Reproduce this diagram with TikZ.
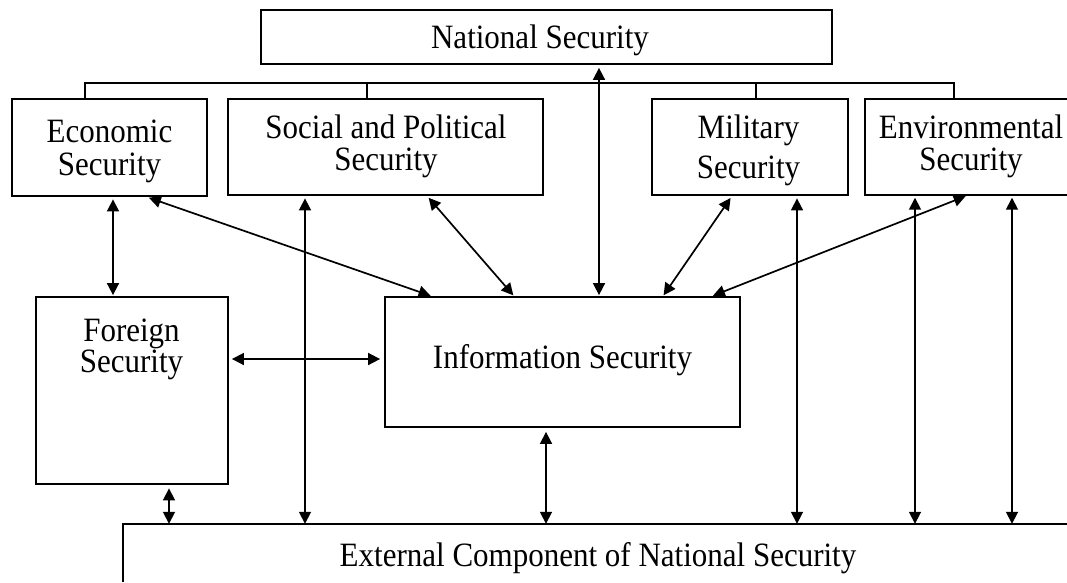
\documentclass[tikz,border=0pt]{standalone}
\usepackage{fontspec}
\setmainfont{Liberation Serif}
\usepackage{graphicx}
\usetikzlibrary{arrows.meta}
\newcommand{\stretchy}[1]{\scalebox{1}[1.1]{#1}}
\newcommand{\twoline}[3]{\scalebox{1}[1.1]{\vbox{\baselineskip=#1\relax\lineskiplimit=-100pt\relax\halign{\hfil##\hfil\cr #2\cr #3\cr}}}}
\begin{document}
\begin{tikzpicture}[x=1pt,y=-1pt,
  box/.style={draw, line width=1.8pt, inner sep=0pt, rectangle},
  openbox/.style={inner sep=0pt, rectangle},
  edge/.style={line width=1.8pt},
  txt/.style={inner sep=0pt, anchor=base, font=\fontsize{31}{26}\selectfont},
  arr/.style={line width=1.7pt, {Triangle[length=12pt,width=12pt]}-{Triangle[length=12pt,width=12pt]}},
  brk/.style={line width=1.1pt}]
\fill[white] (0,0) rectangle (1067,582);
\useasboundingbox (0,0) rectangle (1067,582);

% boxes
\node[box, minimum width=571pt, minimum height=54pt] (nat) at (546.5,37) {};
\node[box, minimum width=195pt, minimum height=97pt] (eco) at (109.5,147.5) {};
\node[box, minimum width=315pt, minimum height=96pt] (soc) at (385.5,147) {};
\node[box, minimum width=196pt, minimum height=96pt] (mil) at (750,147) {};
\node[openbox, minimum width=202pt, minimum height=96pt] (env) at (966,147) {};
\draw[edge] (env.north east) -- (env.north west) -- (env.south west) -- (env.south east);
\node[box, minimum width=192pt, minimum height=187pt] (for) at (132,390.5) {};
\node[box, minimum width=355pt, minimum height=130pt] (inf) at (562.5,362) {};
\node[openbox, minimum width=944pt, minimum height=58pt] (ext) at (595,553) {};
\draw[edge] (ext.south west) -- (ext.north west) -- (ext.north east);

% texts
\node[txt] (tnat) at (540,48) {\stretchy{National Security}};
\node[txt] (teco) at (109.5,175) {\twoline{30pt}{Economic}{Security}};
\node[txt] (tsoc) at (386,170) {\twoline{29pt}{Social and Political}{Security}};
\node[txt] (tmil) at (748.5,178) {\twoline{36pt}{Military}{Security}};
\node[txt] (tenv) at (971,170) {\twoline{29pt}{Environmental}{Security}};
\node[txt] (tfor) at (131.5,372) {\twoline{28pt}{Foreign}{Security}};
\node[txt] (tinf) at (562.5,368) {\stretchy{Information Security}};
\node[txt] (lext) at (598,566) {\stretchy{External Component of National Security}};

% bracket under National Security
\coordinate (bk) at (0,83);
\coordinate (b1) at ([xshift=-24.5pt]eco.north);
\coordinate (b2) at ([xshift=-18.5pt]soc.north);
\coordinate (b3) at ([xshift=6pt]mil.north);
\coordinate (b4) at ([xshift=-12pt]env.north);
\draw[brk] (b1) -- (b1 |- bk) -- (b4 |- bk) -- (b4);
\draw[brk] (b2) -- (b2 |- bk);
\draw[brk] (b3) -- (b3 |- bk);

% arrows
\coordinate (a1) at ([xshift=3.5pt]eco.south);
\draw[arr, shorten <=2.5pt, shorten >=1pt] (a1) -- (a1 |- for.north);

\coordinate (a2s) at ([xshift=37pt]eco.south);
\coordinate (a2e) at ([xshift=-131pt]inf.north);
\draw[arr, shorten <=2.5pt, shorten >=1pt] (a2s) -- (a2e);

\coordinate (a3s) at ([xshift=41.5pt]soc.south);
\coordinate (a3e) at ([xshift=-48.5pt]inf.north);
\draw[arr, shorten <=2.5pt, shorten >=1pt] (a3s) -- (a3e);

\coordinate (a4) at ([xshift=52.5pt]nat.south);
\draw[arr, shorten <=3pt, shorten >=1pt] (a4) -- (a4 |- inf.north);

\coordinate (a5s) at ([xshift=-18pt]mil.south);
\coordinate (a5e) at ([xshift=100.5pt]inf.north);
\draw[arr, shorten <=2.5pt, shorten >=1pt] (a5s) -- (a5e);

\coordinate (a6s) at ([xshift=2pt]env.south);
\coordinate (a6e) at ([xshift=149.5pt]inf.north);
\draw[arr, shorten <=2.5pt, shorten >=1pt] (a6s) -- (a6e);

\coordinate (a7) at ([xshift=-80.5pt]soc.south);
\draw[arr, shorten <=2.5pt] (a7) -- (a7 |- ext.north);

\coordinate (a8) at ([xshift=47pt]mil.south);
\draw[arr, shorten <=2.5pt] (a8) -- (a8 |- ext.north);

\coordinate (a9) at ([xshift=-51pt]env.south);
\draw[arr, shorten <=2.5pt] (a9) -- (a9 |- ext.north);

\coordinate (a10) at ([xshift=46pt]env.south);
\draw[arr, shorten <=2.5pt] (a10) -- (a10 |- ext.north);

\coordinate (a11) at ([yshift=31.5pt]for.east);
\draw[arr, shorten <=3pt, shorten >=4pt] (a11) -- (a11 -| inf.west);

\coordinate (a12) at ([xshift=37pt]for.south);
\draw[arr, shorten <=3.5pt] (a12) -- (a12 |- ext.north);

\coordinate (a13) at ([xshift=-16.5pt]inf.south);
\draw[arr, shorten <=4pt] (a13) -- (a13 |- ext.north);
\end{tikzpicture}
\end{document}
